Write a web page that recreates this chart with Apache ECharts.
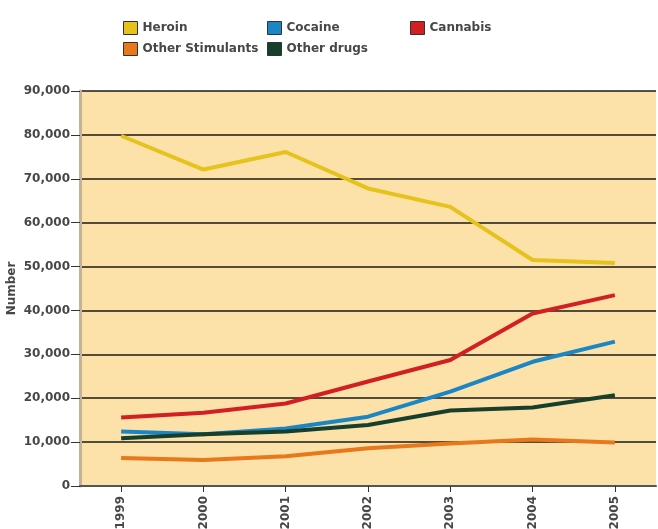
<!DOCTYPE html>
<html>
<head>
<meta charset="utf-8">
<script src="https://cdn.jsdelivr.net/npm/echarts@6/dist/echarts.min.js"></script>
<style>
html,body{margin:0;padding:0;background:#fff;}
#chart{width:658px;height:529px;}
</style>
</head>
<body>
<div id="chart"></div>
<script>
const years = ['1999','2000','2001','2002','2003','2004','2005'];
const heroin = [79800, 72100, 76100, 67800, 63600, 51500, 50800];
const cocaine = [12400, 11800, 13100, 15800, 21500, 28300, 32900];
const cannabis = [15600, 16700, 18800, 23800, 28700, 39300, 43500];
const otherStimulants = [6400, 5900, 6800, 8600, 9700, 10600, 9900];
const otherDrugs = [10900, 11800, 12400, 13900, 17200, 17900, 20700];

const seriesNames = ['Heroin','Cocaine','Cannabis','Other Stimulants','Other drugs'];
const seriesData = [heroin, cocaine, cannabis, otherStimulants, otherDrugs];
const colors = ['#e6c31c','#1b86c6','#d21f24','#e7781c','#163f2c'];

const FONT = 'DejaVu Sans, Verdana, sans-serif';
const TXT = '#474747';
const legendPos = [
  {left: 118, top: 16},
  {left: 262, top: 16},
  {left: 405, top: 16},
  {left: 118, top: 37},
  {left: 262, top: 37}
];

const chart = echarts.init(document.getElementById('chart'));
chart.setOption({
  backgroundColor: '#ffffff',
  animation: false,
  color: colors,
  legend: seriesNames.map((n, i) => ({
    data: [n],
    left: legendPos[i].left,
    top: legendPos[i].top,
    itemWidth: 14,
    itemHeight: 13,
    icon: 'rect',
    itemStyle: {borderColor: '#333', borderWidth: 1},
    textStyle: {fontFamily: FONT, fontSize: 12, fontWeight: 'bold', lineHeight: 14, color: TXT}
  })),
  grid: {
    left: 80, right: 2, top: 91, bottom: 43,
    outerBoundsMode: 'none',
    containLabel: false,
    show: true, backgroundColor: '#fce2a8', borderWidth: 0
  },
  xAxis: {
    type: 'category',
    data: years,
    boundaryGap: true,
    axisLine: {show: true, lineStyle: {color: '#555', width: 2}},
    axisTick: {show: true, alignWithLabel: true, length: 6, lineStyle: {color: '#333', width: 1}},
    axisLabel: {rotate: 90, fontFamily: FONT, fontSize: 12, fontWeight: 'bold', color: TXT, margin: 10}
  },
  yAxis: {
    type: 'value',
    min: 0, max: 90000, interval: 10000,
    name: 'Number',
    nameLocation: 'middle',
    nameRotate: 90,
    nameGap: 62,
    nameMoveOverlap: false,
    nameTextStyle: {fontFamily: FONT, fontSize: 12, fontWeight: 'bold', color: TXT},
    axisLine: {show: true, lineStyle: {color: '#c2b396', width: 3}},
    axisTick: {show: true, length: 9, lineStyle: {color: '#333', width: 1}},
    axisLabel: {
      fontFamily: FONT, fontSize: 12, fontWeight: 'bold', color: TXT, margin: 10,
      formatter: v => v === 0 ? '0' : v.toLocaleString('en-US')
    },
    splitLine: {show: true, lineStyle: {color: '#1a1a1a', width: 1.5}}
  },
  series: seriesNames.map((n, i) => ({
    name: n,
    type: 'line',
    data: seriesData[i],
    symbol: 'none',
    smooth: false,
    lineStyle: {width: 4, color: colors[i]},
    itemStyle: {color: colors[i]}
  }))
});
</script>
</body>
</html>
